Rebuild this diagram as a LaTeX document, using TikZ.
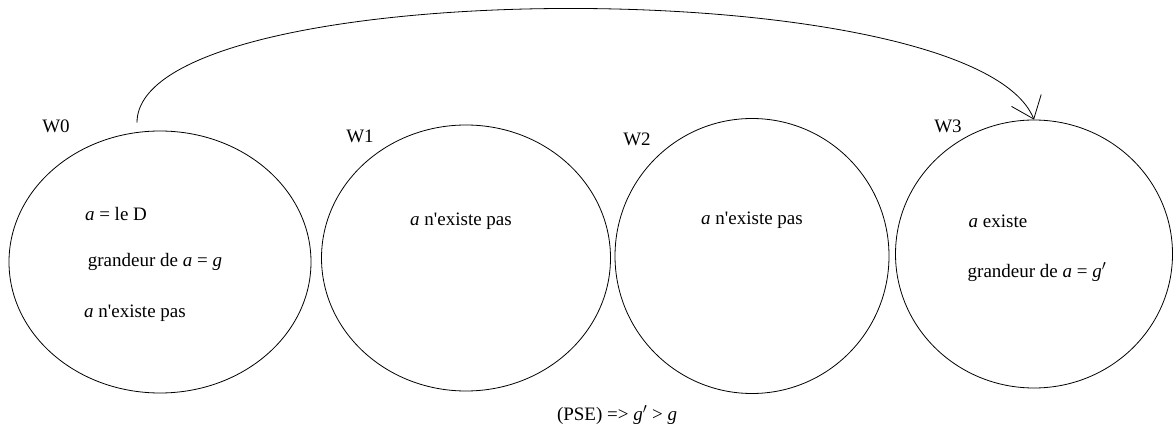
\documentclass[tikz,border=0pt]{standalone}
\usepackage{fontspec}
\setmainfont{Liberation Serif}
\usetikzlibrary{shapes.geometric,arrows.meta}

\begin{document}
\begin{tikzpicture}[
        x=1pt, y=-1pt,
        font=\fontsize{19}{21}\selectfont,
        world/.style={draw, ellipse, inner sep=0pt, line width=0.8pt},
        world label/.style={inner sep=0pt},
        fact/.style={inner sep=0pt},
        jump/.style={line width=0.8pt, -{Straight Barb[length=20pt,width=32pt,line width=0.8pt]}},
    ]

    \useasboundingbox (0,0) rectangle (1174,435);

    % Les quatre mondes : nom / centre / largeur / hauteur
    \foreach \name/\cx/\cy/\wd/\ht in {
        w0/160/262/302/262,
        w1/466/258/289/266,
        w2/752/256/274/275,
        w3/1034/254/277/268
    } {
        \node[world, minimum width=\wd pt, minimum height=\ht pt] (\name) at (\cx, \cy) {};
    }

    % Noms des mondes
    \node[world label] (l0) at (56, 126) {W0};
    \node[world label] (l1) at (360, 136) {W1};
    \node[world label] (l2) at (637, 139) {W2};
    \node[world label] (l3) at (948, 126) {W3};

    % Contenu de W0
    \node[fact] (w0a) at (116, 214) {\textit{a} = le D};
    \node[fact] (w0b) at (155, 262) {grandeur de \textit{a} = \textit{g}};
    \node[fact] (w0c) at (135, 313) {\textit{a} n\textquotesingle existe pas};

    % Contenu de W1 et W2
    \node[fact] (w1a) at (461, 221) {\textit{a} n\textquotesingle existe pas};
    \node[fact] (w2a) at (752, 220) {\textit{a} n\textquotesingle existe pas};

    % Contenu de W3
    \node[fact] (w3a) at (998, 221) {\textit{a} existe};
    \node[fact] (w3b) at (1037, 272) {grandeur de \textit{a} = \textit{g}$'$};

    % Conclusion
    \node[fact] (pse) at (617, 415) {(PSE) => \textit{g}$'$ > \textit{g}};

    % Accessibilite de W0 vers W3
    \coordinate (start) at ([xshift=-23pt, yshift=8pt]w0.north);
    \draw[jump] (start) .. controls +(0,-150) and +(-60,-150) .. (w3.north);

\end{tikzpicture}
\end{document}
